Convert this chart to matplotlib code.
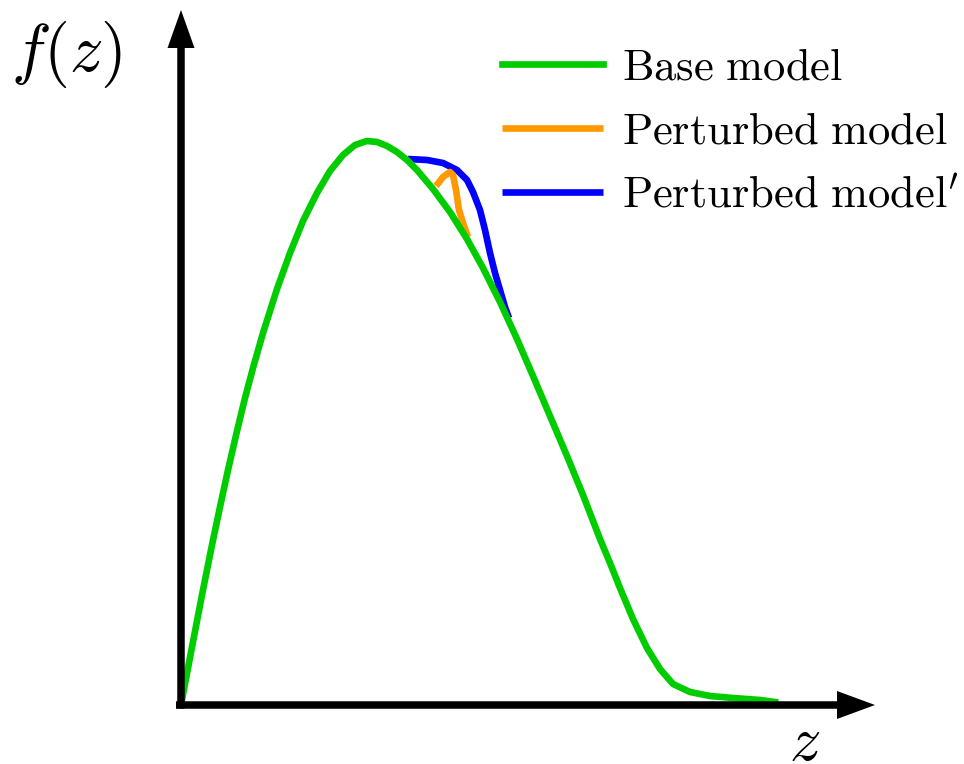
import numpy as np
from matplotlib import pyplot as plt
from matplotlib.patches import FancyArrow

plt.rcParams['mathtext.fontset'] = 'cm'

# curve samples (z, f(z))
base_z = [0.00, 0.11, 0.21, 0.31, 0.39, 0.47, 0.56, 0.64, 0.72, 0.82, 0.96, 1.09, 1.22,
          1.36, 1.49, 1.62, 1.74, 1.86, 1.96, 2.06, 2.16, 2.26, 2.36, 2.52, 2.69, 2.86,
          3.02, 3.19, 3.36, 3.52, 3.69, 3.86, 4.02, 4.19, 4.29, 4.39, 4.52, 4.66, 4.79,
          4.92, 5.09, 5.29, 5.52, 5.79, 5.94]
base_f = [0.00, 0.58, 1.10, 1.60, 1.98, 2.35, 2.74, 3.07, 3.37, 3.72, 4.16, 4.52, 4.84,
          5.12, 5.34, 5.50, 5.60, 5.64, 5.63, 5.59, 5.53, 5.45, 5.35, 5.16, 4.93, 4.66,
          4.37, 4.03, 3.66, 3.29, 2.89, 2.49, 2.10, 1.66, 1.42, 1.17, 0.86, 0.57, 0.36,
          0.21, 0.13, 0.09, 0.07, 0.05, 0.03]

pert_z = [2.55, 2.62, 2.69, 2.72, 2.75, 2.78, 2.82, 2.87]
pert_f = [5.19, 5.28, 5.33, 5.30, 5.15, 4.95, 4.82, 4.68]

pert2_z = [2.27, 2.46, 2.62, 2.76, 2.86, 2.92, 2.99, 3.04, 3.09, 3.14, 3.19, 3.24, 3.28]
pert2_f = [5.46, 5.45, 5.42, 5.35, 5.25, 5.13, 4.95, 4.75, 4.52, 4.32, 4.15, 3.98, 3.87]

labels = [r'$\mathrm{Base\ model}$', r'$\mathrm{Perturbed\ model}$',
          r"$\mathrm{Perturbed\ model}'$"]
colors = ['#00cc00', '#ff9900', '#0000ff']

fig = plt.figure(figsize=(9.64, 7.64), dpi=100)
ax = fig.add_axes([0, 0, 1, 1])
ax.set_xlim(-1.81, 7.83)
ax.set_ylim(-0.59, 7.05)
ax.axis('off')

lw = 4.8
ax.plot(pert2_z, pert2_f, color=colors[2], lw=lw, solid_capstyle='butt',
        solid_joinstyle='round', label=labels[2])
ax.plot(pert_z, pert_f, color=colors[1], lw=lw, solid_capstyle='butt',
        solid_joinstyle='round', label=labels[1])
ax.plot(base_z, base_f, color=colors[0], lw=lw, solid_joinstyle='round', label=labels[0])

# axes with arrow heads
ax.add_patch(FancyArrow(0, -0.035, 0, 6.985, width=0.075, head_width=0.27, head_length=0.38,
                        length_includes_head=True, color='k', lw=0, zorder=5))
ax.add_patch(FancyArrow(-0.05, 0, 6.99, 0, width=0.075, head_width=0.28, head_length=0.38,
                        length_includes_head=True, color='k', lw=0, zorder=5))

ax.text(-1.15, 6.50, r'$f(z)$', fontsize=48, ha='center', va='center')
ax.text(6.24, -0.38, r'$z$', fontsize=45, ha='center', va='center')

h, l = ax.get_legend_handles_labels()
leg = ax.legend(h[::-1], l[::-1], loc='upper left', bbox_to_anchor=(0.5207, 0.9407),
                frameon=False, fontsize=32, handlelength=2.27, handletextpad=0.43,
                labelspacing=0.48, borderpad=0, borderaxespad=0)

fig.savefig('out.png', dpi=100)
